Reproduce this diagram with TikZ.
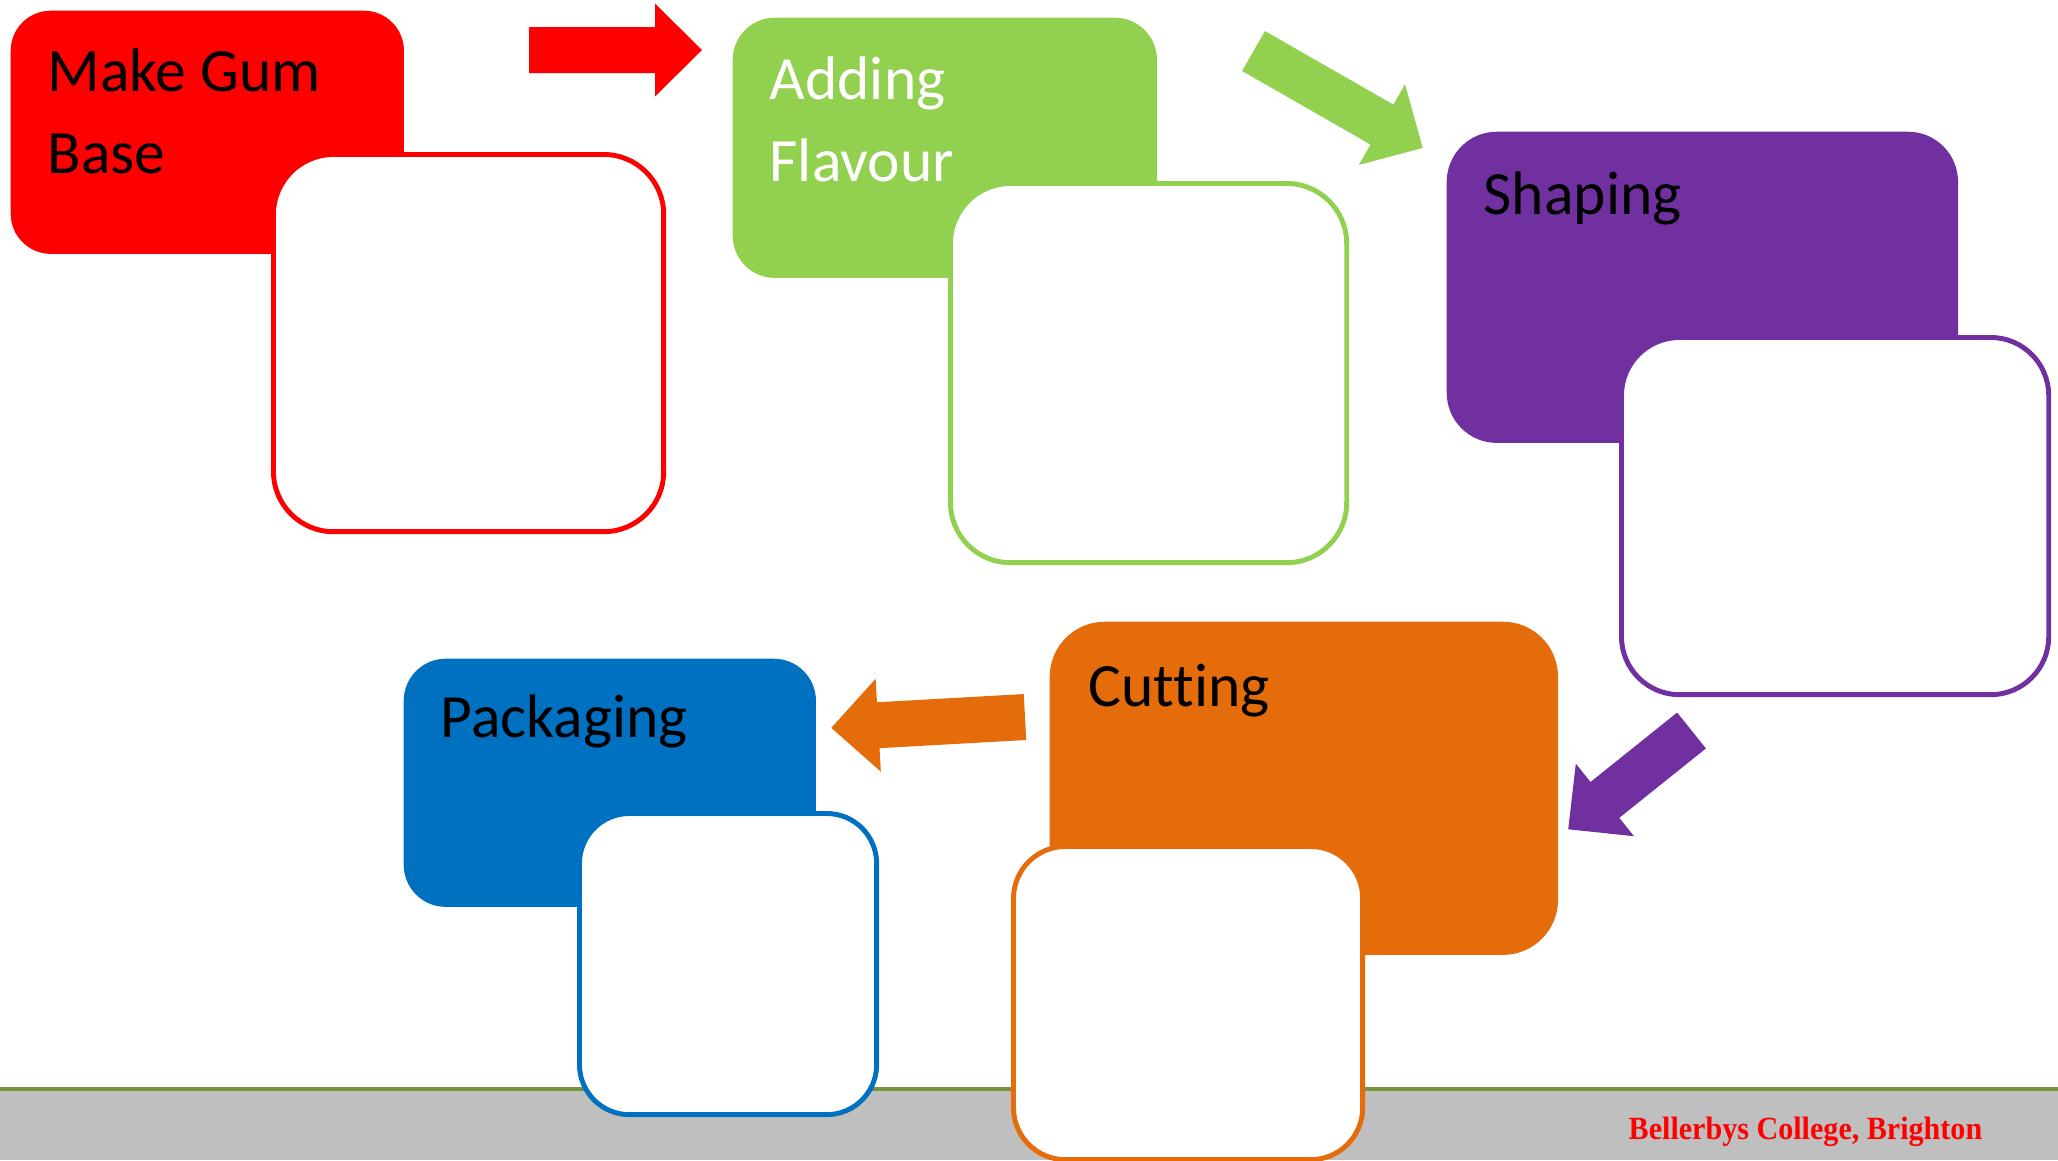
\documentclass[tikz,border=0pt]{standalone}
\usepackage{fontspec}
\setmainfont{Carlito}[Ligatures=CommonOff]
\newfontfamily\collegefont{Liberation Serif}[FakeStretch=0.93]
\usetikzlibrary{calc}
\definecolor{gumred}{HTML}{FF0000}
\definecolor{flavgreen}{HTML}{92D050}
\definecolor{shapepurple}{HTML}{7030A0}
\definecolor{cutorange}{HTML}{E46C0A}
\definecolor{packblue}{HTML}{0070C0}
\definecolor{footgray}{HTML}{BFBFBF}
\definecolor{footline}{HTML}{77933C}
\tikzset{%
    stepfill/.style={rectangle, anchor=north west, inner sep=0pt, fill=#1},
    stepbox/.style={rectangle, anchor=north west, inner sep=0pt, draw=#1,
        fill=white, line width=1.4pt},
    steptext/.style={anchor=base west, inner sep=0pt, align=left,
        font=\fontsize{17.5}{23.3}\selectfont}
}
% block arrow: colour, tail, angle, length
\newcommand{\bigarrow}[4]{%
    \fill[#1, shift={#2}, rotate=#3]
        (0,-23) -- ({#4-47},-23) -- ({#4-47},-46.5) -- (#4,0)
        -- ({#4-47},46.5) -- ({#4-47},23) -- (0,23) -- cycle;}

\begin{document}
\begin{tikzpicture}[x=0.01cm, y=-0.01cm]
    \useasboundingbox (0,0) rectangle (2058,1160);
    % footer
    \fill[footgray] (0,1090) rectangle (2058,1160);
    \draw[footline, line width=1.2pt] (0,1089) -- (2058,1089);
    \node[anchor=base west, inner sep=0pt, text=gumred,
        font=\collegefont\bfseries\fontsize{9.2}{11}\selectfont]
        (college) at (1628,1139) {Bellerbys College, Brighton};

    % coloured boxes
    \node[stepfill=gumred, minimum width=3.93cm, minimum height=2.43cm,
        rounded corners=0.4cm] (gum) at (10,10) {};
    \node[stepfill=flavgreen, minimum width=4.24cm, minimum height=2.6cm,
        rounded corners=0.42cm] (flavour) at (732,17) {};
    \node[stepfill=shapepurple, minimum width=5.11cm, minimum height=3.11cm,
        rounded corners=0.5cm] (shaping) at (1446,131) {};
    \node[stepfill=cutorange, minimum width=5.08cm, minimum height=3.33cm,
        rounded corners=0.55cm] (cutting) at (1049,621) {};
    \node[stepfill=packblue, minimum width=4.12cm, minimum height=2.48cm,
        rounded corners=0.42cm] (packaging) at (403,658) {};

    % white boxes
    \node[stepbox=gumred, minimum width=3.9cm, minimum height=3.77cm,
        rounded corners=0.6cm] (gumbox) at (271,152) {};
    \node[stepbox=flavgreen, minimum width=3.96cm, minimum height=3.79cm,
        rounded corners=0.6cm] (flavourbox) at (948,181) {};
    \node[stepbox=shapepurple, minimum width=4.27cm, minimum height=3.57cm,
        rounded corners=0.58cm] (shapingbox) at (1619,335) {};
    \node[stepbox=cutorange, minimum width=3.49cm, minimum height=3.13cm,
        rounded corners=0.52cm] (cuttingbox) at (1011,844) {};
    \node[stepbox=packblue, minimum width=2.97cm, minimum height=3.01cm,
        rounded corners=0.5cm] (packagingbox) at (577,811) {};

    % labels
    \node[steptext] (gumtxt) at ($(gum.north west)+(37,163)$) {Make Gum\\Base};
    \node[steptext, text=white] (flavourtxt) at ($(flavour.north west)+(37,164)$) {Adding\\Flavour};
    \node[steptext] (shapingtxt) at ($(shaping.north west)+(37,83)$) {Shaping};
    \node[steptext] (cuttingtxt) at ($(cutting.north west)+(39,85)$) {Cutting};
    \node[steptext] (packagingtxt) at ($(packaging.north west)+(37,79)$) {Packaging};

    % arrows
    \bigarrow{gumred}{(529,50)}{0}{173}
    \bigarrow{flavgreen}{(1253.5,51)}{-29.8}{195}
    \bigarrow{shapepurple}{(1691.5,730.5)}{-141.3}{158}
    \bigarrow{cutorange}{(1025,717)}{183.2}{194}
\end{tikzpicture}
\end{document}
